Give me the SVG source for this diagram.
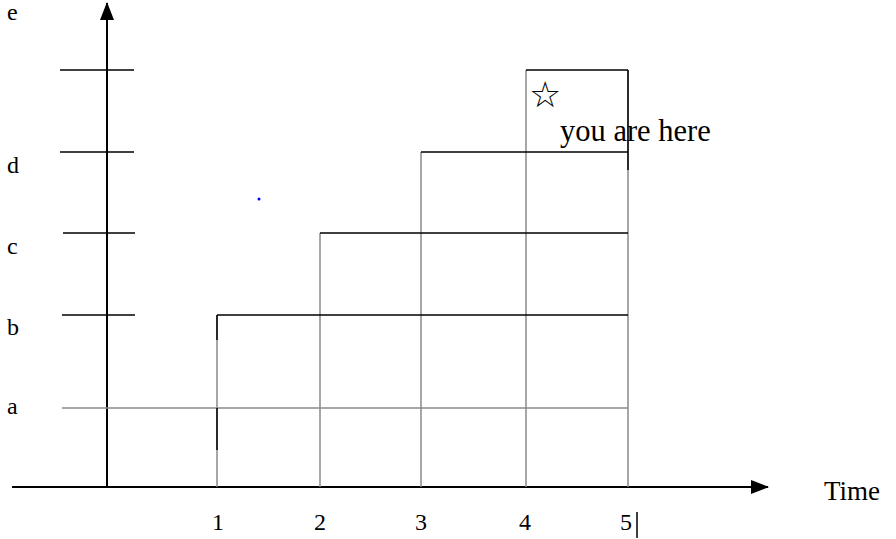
<svg xmlns="http://www.w3.org/2000/svg" width="896" height="539" viewBox="0 0 896 539">
<style>
text{font-family:"Liberation Serif","Times New Roman",serif;font-size:24px;fill:#000}
.ax{stroke:#000;stroke-width:2;fill:none}
.k{stroke:#000;stroke-width:1.5;fill:none}
.g{stroke:#8a8a8a;stroke-width:1.5;fill:none}
</style>
<defs>
<marker id="av" markerWidth="18" markerHeight="18" refX="17" refY="9" orient="auto" markerUnits="userSpaceOnUse" viewBox="0 0 18 18"><path d="M0,2 L18,9 L0,16 Z" fill="#000"/></marker>
</defs>
<g id="connectors">
<line class="ax" x1="107" y1="487" x2="107" y2="3" marker-end="url(#av)"/>
<line class="ax" x1="12" y1="487" x2="768" y2="487" marker-end="url(#av)"/>
<line class="k" x1="60" y1="70" x2="134" y2="70"/>
<line class="k" x1="60" y1="152" x2="134" y2="152"/>
<line class="k" x1="63" y1="233" x2="135" y2="233"/>
<line class="k" x1="62" y1="315" x2="135" y2="315"/>
<line class="g" x1="62" y1="408" x2="628" y2="408"/>
<line class="g" x1="217" y1="315" x2="217" y2="487"/>
<line class="k" x1="217" y1="315" x2="217" y2="340"/>
<line class="k" x1="217" y1="408" x2="217" y2="450"/>
<line class="g" x1="320" y1="233" x2="320" y2="487"/>
<line class="g" x1="421" y1="152" x2="421" y2="487"/>
<line class="g" x1="526" y1="70" x2="526" y2="487"/>
<line class="g" x1="628" y1="70" x2="628" y2="487"/>
<line class="k" x1="217" y1="315" x2="628" y2="315"/>
<line class="k" x1="320" y1="233" x2="628" y2="233"/>
<line class="k" x1="421" y1="152" x2="628" y2="152"/>
<line class="k" x1="526" y1="70" x2="628" y2="70"/>
<line class="k" x1="628" y1="70" x2="628" y2="170"/>
<line class="k" x1="637" y1="512" x2="637" y2="538" stroke-width="1.2"/>
</g>
<g id="labels">
<text x="7" y="20">e</text>
<text x="7" y="173">d</text>
<text x="7" y="254">c</text>
<text x="7" y="335">b</text>
<text x="7" y="414">a</text>
<text x="212" y="530">1</text>
<text x="314" y="530">2</text>
<text x="415" y="530">3</text>
<text x="519" y="530">4</text>
<text x="620" y="530">5</text>
<text x="824" y="500" style="font-size:27px">Time</text>
<text x="529" y="107" style="font-size:36px;font-family:'DejaVu Sans',sans-serif">☆</text>
<text x="560" y="141" style="font-size:30.5px">you are here</text>
</g>
<circle cx="259" cy="199" r="1.5" fill="#0000ff"/>
</svg>
